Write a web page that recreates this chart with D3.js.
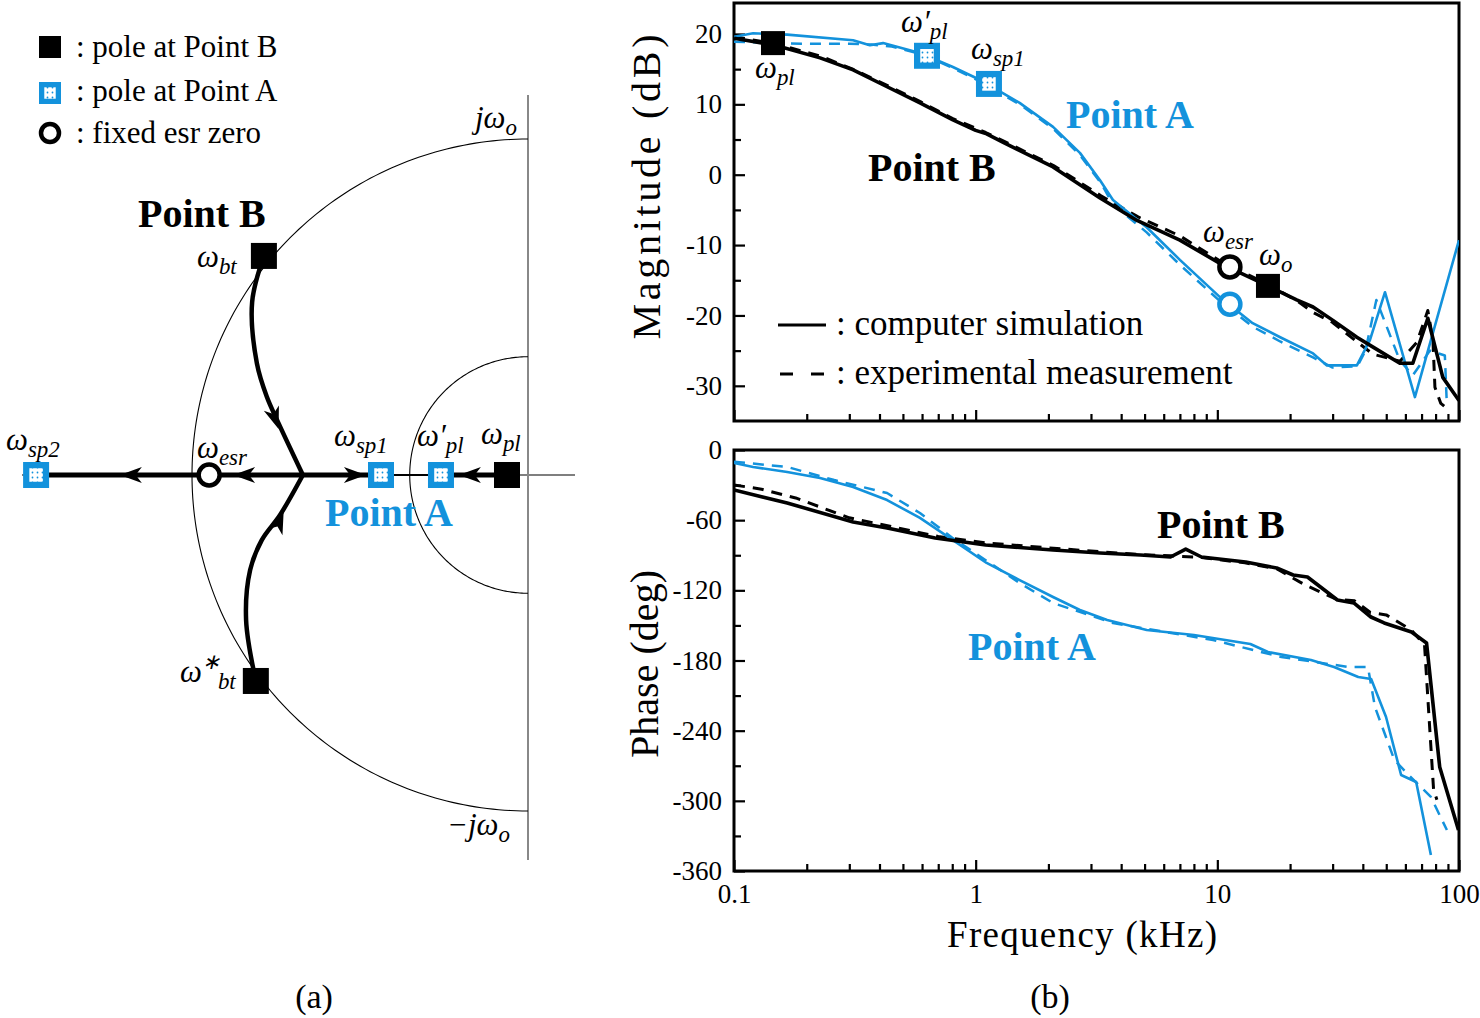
<!DOCTYPE html>
<html><head><meta charset="utf-8">
<script src="https://cdn.jsdelivr.net/npm/d3@7"></script>
<style>
html,body{margin:0;padding:0;background:#fff;}
svg{display:block;}
text{font-family:"Liberation Serif","Times New Roman",serif;fill:#000;}
</style></head>
<body>
<svg id="c" width="1480" height="1018"></svg>
<script>
// ---------------- DATA ----------------
// Bode magnitude (frequency kHz, dB)
const magB_sim = [[0.1,19.4],[0.148,18.4],[0.227,16.6],[0.311,14.9],[0.43,12.5],[0.588,10.2],[0.805,7.8],[1.0,6.3],[1.11,5.8],[1.30,4.6],[2.09,1.1],[3.27,-3.3],[4.65,-6.5],[7.0,-9.3],[10.25,-12.6],[16.2,-15.8],[21.3,-17.8],[24.9,-18.8],[30.1,-20.7],[37.8,-23.1],[44.1,-24.5],[56.9,-26.8],[64.4,-26.8],[74.3,-20.4],[85.7,-28.8],[100,-32.1]];
const magB_exp = [[0.1,19.6],[0.15,18.6],[0.23,16.8],[0.31,15.0],[0.43,12.7],[0.59,10.4],[0.8,8.0],[1.1,6.0],[1.3,4.8],[2.1,1.3],[3.3,-3.0],[4.7,-6.0],[7.0,-8.7],[10.2,-12.2],[16.2,-15.6],[21.3,-17.9],[25,-19.6],[30,-21.0],[38,-23.8],[44,-25.5],[57,-26.5],[67,-23.8],[74.3,-19.3],[78,-23.5],[79.5,-30.2],[84.1,-32.5],[89.1,-33.2]];
const magA_sim = [[0.1,19.6],[0.12,20.1],[0.166,19.9],[0.311,19.1],[0.365,18.4],[0.414,18.7],[0.588,17.3],[0.805,15.3],[1.04,13.5],[1.52,10.2],[2.09,6.8],[2.70,3.1],[3.27,-0.8],[3.70,-3.6],[5.11,-7.5],[7.0,-12.1],[10.25,-17.4],[14.0,-21.1],[18.2,-23.1],[24.9,-25.4],[28.4,-27.1],[37.8,-27.1],[42.8,-23.5],[49.4,-16.7],[65.7,-31.6],[75.8,-24.0],[100,-9.3]];
const magA_exp = [[0.1,18.9],[0.13,18.8],[0.19,18.6],[0.3,18.6],[0.37,18.5],[0.45,18.2],[0.6,17.1],[0.8,15.2],[1.05,13.2],[1.55,9.8],[2.1,6.5],[2.7,2.8],[3.3,-1.2],[3.7,-4.2],[5.1,-8.2],[7.0,-12.8],[10.2,-17.9],[14,-21.6],[18.2,-23.7],[25,-26.0],[30,-27.4],[38,-27.2],[41,-25.0],[45.5,-17.8],[56.9,-26.4],[64.4,-28.5],[75.8,-25.0],[87.4,-25.7],[89.1,-32.8]];
// Bode phase (frequency kHz, degrees)
const phB_sim = [[0.1,-34.2],[0.166,-45.3],[0.311,-61.6],[0.43,-66.7],[0.68,-75.2],[1.1,-81.2],[2.09,-85.5],[3.27,-88.1],[4.8,-89.8],[6.4,-91.5],[7.4,-84.7],[8.6,-91.5],[13.1,-95.8],[17.6,-100.9],[20.6,-106.9],[23.6,-108.6],[31.4,-128.3],[36.7,-130.8],[43.2,-142.8],[49.0,-147.9],[63.6,-155.6],[73.4,-165.0],[83.2,-271.0],[99.5,-325.0]];
const phB_exp = [[0.1,-29.9],[0.13,-33.5],[0.18,-41.0],[0.3,-58.0],[0.45,-65.5],[0.7,-74.0],[1.1,-79.5],[2.1,-84.0],[3.3,-87.0],[4.8,-89.5],[6.4,-90.5],[8.6,-92.0],[13,-96.5],[17.6,-101.5],[22,-113.0],[24,-117.0],[31,-127.5],[37,-129.0],[43,-139.0],[50,-141.0],[63.6,-154.0],[72,-166.7],[78.5,-290.7],[81,-299.0]];
const phA_sim = [[0.1,-11.1],[0.12,-14.5],[0.166,-18.8],[0.227,-23.9],[0.311,-31.6],[0.43,-42.8],[0.588,-58.1],[0.805,-77.0],[1.11,-96.6],[1.52,-111.2],[2.09,-125.7],[2.7,-136.8],[3.5,-145.4],[5.1,-153.9],[8.0,-158.2],[13.7,-165.9],[16.2,-172.7],[24.4,-179.6],[30.4,-185.6],[38.3,-194.1],[43.3,-195.8],[49.9,-228.3],[57.6,-277.9],[66.5,-283.9],[76.5,-346.3]];
const phA_exp = [[0.1,-10.0],[0.166,-14.5],[0.26,-25.7],[0.43,-36.8],[0.588,-53.9],[0.8,-75.0],[1.52,-113.7],[2.09,-130.8],[3.7,-148.0],[9.6,-162.5],[18.4,-177.0],[35.0,-185.6],[42.0,-185.6],[44.9,-219.8],[54.0,-265.0],[62.0,-278.0],[76.5,-296.7],[89.1,-325.0]];
// axis ticks
const freqTicks = [0.1,1,10,100];
const freqTickLabels = ["0.1","1","10","100"];
const magTicks = [20,10,0,-10,-20,-30];
const magTickLabels = ["20","10","0","-10","-20","-30"];
const phTicks = [0,-60,-120,-180,-240,-300,-360];
const phTickLabels = ["0","-60","-120","-180","-240","-300","-360"];
// Root locus (normalized s-plane, ω_o = 1)
const rl_pl = [-0.0625,0], rl_plp = [-0.259,0], rl_sp1 = [-0.4375,0], rl_sp2 = [-1.464,0];
const rl_esr = [-0.949,0], rl_branch = [-0.670,0];
const rl_bt = [-0.786,0.652], rl_btc = [-0.810,-0.613];
const rl_upper = [[-0.786,0.652],[-0.821,0.515],[-0.807,0.333],[-0.777,0.232],[-0.747,0.164],[-0.670,0.0]];
const rl_lower = [[-0.810,-0.613],[-0.839,-0.432],[-0.827,-0.283],[-0.792,-0.193],[-0.738,-0.119],[-0.670,0.0]];
const rl_bigR = 1.0, rl_smallR = 0.352;

// ---------------- DRAW ----------------
const svg = d3.select("#c");
const BLUE = "#1392dc";
const SERIF = "Liberation Serif, Times New Roman, serif";

const defs = svg.append("defs");
const pat = defs.append("pattern").attr("id","dots").attr("patternUnits","userSpaceOnUse").attr("width",5).attr("height",5);
pat.append("rect").attr("width",5).attr("height",5).attr("fill","#fff");
pat.append("circle").attr("cx",2.5).attr("cy",2.5).attr("r",0.9).attr("fill",BLUE);

function blackSquare(g,cx,cy,s){ g.append("rect").attr("x",cx-s/2).attr("y",cy-s/2).attr("width",s).attr("height",s).attr("fill","#000"); }
function blueSquare(g,cx,cy,s){
  g.append("rect").attr("x",cx-s/2).attr("y",cy-s/2).attr("width",s).attr("height",s).attr("fill",BLUE);
  const i=s*0.52;
  g.append("rect").attr("x",cx-i/2).attr("y",cy-i/2).attr("width",i).attr("height",i).attr("fill","url(#dots)");
}
function ring(g,cx,cy,r,col){ g.append("circle").attr("cx",cx).attr("cy",cy).attr("r",r).attr("fill","#fff").attr("stroke",col).attr("stroke-width",4.5); }
function mathLabel(g,x,y,base,sub,sup,size,col){
  size=size||30; col=col||"#000";
  const t=g.append("text").attr("x",x).attr("y",y).attr("font-size",size).attr("font-style","italic").style("fill",col);
  t.append("tspan").text(base);
  if(sup){
    t.append("tspan").attr("dy",-size*0.42).attr("font-size",size*0.7).text(sup);
    if(sub) t.append("tspan").attr("dx",-2).attr("dy",size*0.64).attr("font-size",size*0.74).text(sub);
  } else if(sub){
    t.append("tspan").attr("dy",size*0.22).attr("font-size",size*0.74).text(sub);
  }
}

// ===== (a) legend =====
const lg = svg.append("g");
blackSquare(lg,50,47,22);
lg.append("text").attr("x",76).attr("y",57).attr("font-size",31).text(": pole at Point B");
blueSquare(lg,50,93,22);
lg.append("text").attr("x",76).attr("y",101).attr("font-size",31).text(": pole at Point A");
ring(lg,50,133,9,"#000");
lg.append("text").attr("x",76).attr("y",143).attr("font-size",31).text(": fixed esr zero");

// ===== (a) root locus =====
const sx = d3.scaleLinear().domain([-1,0]).range([192,528]);
const sy = d3.scaleLinear().domain([-1,1]).range([811,139]);
const rl = svg.append("g");
rl.append("line").attr("x1",22).attr("x2",575).attr("y1",sy(0)).attr("y2",sy(0)).attr("stroke","#555").attr("stroke-width",1.3);
rl.append("line").attr("x1",sx(0)).attr("x2",sx(0)).attr("y1",95).attr("y2",860).attr("stroke","#888").attr("stroke-width",2);
const arcBig = d3.range(90,270.5,1).map(a=>[sx(rl_bigR*Math.cos(a*Math.PI/180)), sy(rl_bigR*Math.sin(a*Math.PI/180))]);
rl.append("path").attr("d",d3.line()(arcBig)).attr("fill","none").attr("stroke","#000").attr("stroke-width",1.1);
const arcSm = d3.range(90,270.5,1).map(a=>[sx(rl_smallR*Math.cos(a*Math.PI/180)), sy(rl_smallR*Math.sin(a*Math.PI/180))]);
rl.append("path").attr("d",d3.line()(arcSm)).attr("fill","none").attr("stroke","#000").attr("stroke-width",1.1);
const lineS = d3.line().x(d=>sx(d[0])).y(d=>sy(d[1])).curve(d3.curveCatmullRom);
rl.append("path").attr("d",lineS(rl_upper)).attr("fill","none").attr("stroke","#000").attr("stroke-width",4.5);
rl.append("path").attr("d",lineS(rl_lower)).attr("fill","none").attr("stroke","#000").attr("stroke-width",4.5);
rl.append("line").attr("x1",sx(rl_branch[0])).attr("x2",sx(rl_sp2[0])).attr("y1",sy(0)).attr("y2",sy(0)).attr("stroke","#000").attr("stroke-width",5);
rl.append("line").attr("x1",sx(rl_branch[0])).attr("x2",sx(rl_sp1[0])).attr("y1",sy(0)).attr("y2",sy(0)).attr("stroke","#000").attr("stroke-width",5);
rl.append("line").attr("x1",sx(rl_pl[0])).attr("x2",sx(rl_plp[0])).attr("y1",sy(0)).attr("y2",sy(0)).attr("stroke","#000").attr("stroke-width",5);
rl.append("line").attr("x1",sx(rl_plp[0])).attr("x2",sx(rl_sp1[0])).attr("y1",sy(0)).attr("y2",sy(0)).attr("stroke","#000").attr("stroke-width",2.2);
function arrow(g,px,py,dx,dy){
  const L=Math.hypot(dx,dy); dx/=L; dy/=L;
  const len=22, w=8;
  const tip=[px+dx*len/2, py+dy*len/2], back=[px-dx*len/2, py-dy*len/2];
  const nx=-dy, ny=dx;
  const pts=[tip,[back[0]+nx*w,back[1]+ny*w],[px-dx*len*0.22,py-dy*len*0.22],[back[0]-nx*w,back[1]-ny*w]];
  g.append("path").attr("d","M"+pts.map(p=>p.join(",")).join("L")+"Z").attr("fill","#000");
}
arrow(rl,sx(-1.182),sy(0),-1,0);
arrow(rl,sx(-0.845),sy(0),-1,0);
arrow(rl,sx(-0.515),sy(0),1,0);
arrow(rl,sx(-0.173),sy(0),-1,0);
arrow(rl,sx(-0.753),sy(0.168),0.35,1);
arrow(rl,sx(-0.740),sy(-0.140),0.42,-1);
blackSquare(rl,sx(rl_bt[0]),sy(rl_bt[1]),26);
blackSquare(rl,sx(rl_btc[0]),sy(rl_btc[1]),26);
blackSquare(rl,sx(rl_pl[0]),sy(0),26);
blueSquare(rl,sx(rl_plp[0]),sy(0),26);
blueSquare(rl,sx(rl_sp1[0]),sy(0),26);
blueSquare(rl,sx(rl_sp2[0]),sy(0),26);
ring(rl,sx(rl_esr[0]),sy(0),10.5,"#000");
rl.append("text").attr("x",138).attr("y",227).attr("font-size",40).attr("font-weight","bold").text("Point B");
rl.append("text").attr("x",325).attr("y",526).attr("font-size",40).attr("font-weight","bold").style("fill",BLUE).text("Point A");
mathLabel(rl,6,450,"ω","sp2",null,31);
mathLabel(rl,197,458,"ω","esr",null,31);
mathLabel(rl,334,446,"ω","sp1",null,31);
mathLabel(rl,417,446,"ω′","pl",null,31);
mathLabel(rl,481,444,"ω","pl",null,31);
mathLabel(rl,197,267,"ω","bt",null,31);
mathLabel(rl,180,682,"ω","bt","∗",31);
mathLabel(rl,475,128,"jω","o",null,31);
mathLabel(rl,447,835,"−jω","o",null,31);
svg.append("text").attr("x",314).attr("y",1008).attr("font-size",34).attr("text-anchor","middle").text("(a)");

// ===== (b) Bode =====
const x = d3.scaleLog().domain([0.1,100]).range([734,1459]);
const yMag = d3.scaleLinear().domain([-35,24.4]).range([421,3]);
const yPh = d3.scaleLinear().domain([-360,0]).range([871,450]);
const minorF = [];
[0.1,1,10].forEach(d=>{ for(let k=2;k<=9;k++) minorF.push(d*k); });

defs.append("clipPath").attr("id","cm").append("rect").attr("x",734).attr("y",3).attr("width",725).attr("height",418);
defs.append("clipPath").attr("id","cp").append("rect").attr("x",734).attr("y",450).attr("width",725).attr("height",421);

function frameAxes(yScale, top, bottom, majors, labels, minors, showX){
  const g = svg.append("g");
  const gx = g.append("g").attr("transform",`translate(0,${bottom})`);
  gx.call(d3.axisBottom(x).tickValues(freqTicks).tickSize(-11).tickFormat((d,i)=>showX?freqTickLabels[i]:"").tickPadding(8));
  gx.append("g").call(d3.axisBottom(x).tickValues(minorF).tickSize(-7).tickFormat(""));
  gx.selectAll(".domain").remove();
  gx.selectAll("line").attr("stroke","#000").attr("stroke-width",2.2);
  gx.selectAll("text").attr("font-size",27).attr("font-family",SERIF).attr("fill","#000").attr("dy","0.9em");
  const gy = g.append("g").attr("transform","translate(734,0)");
  gy.call(d3.axisLeft(yScale).tickValues(majors).tickSize(-11).tickFormat((d,i)=>labels[i]).tickPadding(12));
  gy.append("g").call(d3.axisLeft(yScale).tickValues(minors).tickSize(-7).tickFormat(""));
  gy.selectAll(".domain").remove();
  gy.selectAll("line").attr("stroke","#000").attr("stroke-width",2.2);
  gy.selectAll("text").attr("font-size",27).attr("font-family",SERIF).attr("fill","#000");
  g.append("rect").attr("x",734).attr("y",top).attr("width",725).attr("height",bottom-top).attr("fill","none").attr("stroke","#000").attr("stroke-width",3);
  return g;
}
frameAxes(yMag,3,421,magTicks,magTickLabels,[15,5,-5,-15,-25],false);
frameAxes(yPh,450,871,phTicks,phTickLabels,[-30,-90,-150,-210,-270,-330],true);

const lm = d3.line().x(d=>x(d[0])).y(d=>yMag(d[1]));
const lp = d3.line().x(d=>x(d[0])).y(d=>yPh(d[1]));
const gm = svg.append("g").attr("clip-path","url(#cm)");
const gp = svg.append("g").attr("clip-path","url(#cp)");
function series(g, gen, data, col, w, dash){
  const p=g.append("path").attr("d",gen(data)).attr("fill","none").attr("stroke",col).attr("stroke-width",w).attr("stroke-linejoin","round");
  if(dash) p.attr("stroke-dasharray",dash);
}
series(gm,lm,magA_exp,BLUE,2.5,"11,8");
series(gm,lm,magB_exp,"#000",3,"11,8");
series(gm,lm,magA_sim,BLUE,2.6,null);
series(gm,lm,magB_sim,"#000",3.6,null);
series(gp,lp,phA_exp,BLUE,2.5,"11,8");
series(gp,lp,phB_exp,"#000",3,"11,8");
series(gp,lp,phA_sim,BLUE,2.6,null);
series(gp,lp,phB_sim,"#000",3.6,null);

const mk = svg.append("g");
blackSquare(mk,x(0.145),yMag(18.7),24);
blueSquare(mk,x(0.629),yMag(16.9),26);
blueSquare(mk,x(1.135),yMag(12.9),26);
ring(mk,x(11.27),yMag(-13.1),10.5,"#000");
ring(mk,x(11.27),yMag(-18.4),10.5,BLUE);
blackSquare(mk,x(16.2),yMag(-15.8),24);
mathLabel(mk,755,78,"ω","pl",null,31);
mathLabel(mk,901,32,"ω′","pl",null,31);
mathLabel(mk,971,59,"ω","sp1",null,31);
mathLabel(mk,1203,242,"ω","esr",null,31);
mathLabel(mk,1259,265,"ω","o",null,31);

svg.append("text").attr("x",868).attr("y",181).attr("font-size",40).attr("font-weight","bold").text("Point B");
svg.append("text").attr("x",1066).attr("y",128).attr("font-size",40).attr("font-weight","bold").style("fill",BLUE).text("Point A");
svg.append("text").attr("x",1157).attr("y",538).attr("font-size",40).attr("font-weight","bold").text("Point B");
svg.append("text").attr("x",968).attr("y",660).attr("font-size",40).attr("font-weight","bold").style("fill",BLUE).text("Point A");
svg.append("line").attr("x1",778).attr("x2",826).attr("y1",325).attr("y2",325).attr("stroke","#000").attr("stroke-width",3);
svg.append("text").attr("x",836).attr("y",335).attr("font-size",35).text(": computer simulation");
svg.append("line").attr("x1",780).attr("x2",824).attr("y1",374).attr("y2",374).attr("stroke","#000").attr("stroke-width",3).attr("stroke-dasharray","13,18");
svg.append("text").attr("x",836).attr("y",384).attr("font-size",35).text(": experimental measurement");
svg.append("text").attr("transform","translate(660,187) rotate(-90)").attr("text-anchor","middle").attr("font-size",40).attr("textLength",305).attr("lengthAdjust","spacing").text("Magnitude (dB)");
svg.append("text").attr("transform","translate(658,664) rotate(-90)").attr("text-anchor","middle").attr("font-size",40).attr("textLength",188).attr("lengthAdjust","spacing").text("Phase (deg)");
svg.append("text").attr("x",1082).attr("y",947).attr("text-anchor","middle").attr("font-size",37).attr("textLength",270).attr("lengthAdjust","spacing").text("Frequency (kHz)");
svg.append("text").attr("x",1050).attr("y",1008).attr("font-size",34).attr("text-anchor","middle").text("(b)");
</script>
</body></html>
